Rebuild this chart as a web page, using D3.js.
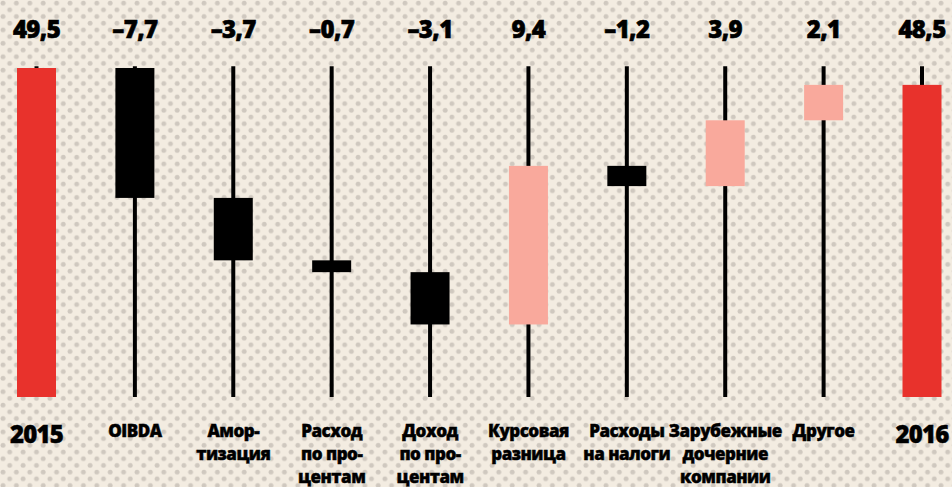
<!DOCTYPE html>
<html>
<head>
<meta charset="utf-8">
<script src="https://cdn.jsdelivr.net/npm/d3@7"></script>
<style>
  html, body { margin: 0; padding: 0; background: #f3ece1; }
  svg { display: block; }
</style>
</head>
<body>
<div id="chart"></div>
<script>
// ---- data ----
const categories = ["2015", "OIBDA", "Амортизация", "Расход по процентам", "Доход по процентам",
  "Курсовая разница", "Расходы на налоги", "Зарубежные дочерние компании", "Другое", "2016"];
const labelLines = [
  ["2015"], ["OIBDA"], ["Амор-", "тизация"], ["Расход", "по про-", "центам"], ["Доход", "по про-", "центам"],
  ["Курсовая", "разница"], ["Расходы", "на налоги"], ["Зарубежные", "дочерние", "компании"], ["Другое"], ["2016"]
];
const values = [49.5, -7.7, -3.7, -0.7, -3.1, 9.4, -1.2, 3.9, 2.1, 48.5];
const valueLabels = ["49,5", "–7,7", "–3,7", "–0,7", "–3,1", "9,4", "–1,2", "3,9", "2,1", "48,5"];
const isTotal = [true, false, false, false, false, false, false, false, false, true];

const width = 952, height = 487;
const baseValue = 30;   // axis is cut, bars start here

// ---- waterfall steps ----
let running = 0;
const steps = values.map((v, i) => {
  let y0, y1;
  if (isTotal[i]) { y0 = baseValue; y1 = v; running = v; }
  else { y0 = running; y1 = running + v; running = y1; }
  return { cat: categories[i], lines: labelLines[i], label: valueLabels[i], v, y0, y1, total: isTotal[i] };
});

const svg = d3.select("#chart").append("svg")
  .attr("width", width)
  .attr("height", height);

// dotted background
const defs = svg.append("defs");
const pat = defs.append("pattern")
  .attr("id", "dots")
  .attr("patternUnits", "userSpaceOnUse")
  .attr("width", 13.4)
  .attr("height", 13.4);
pat.append("rect").attr("width", 13.4).attr("height", 13.4).attr("fill", "#f3ece1");
pat.append("circle").attr("cx", 3).attr("cy", 3).attr("r", 2.4).attr("fill", "#cfc8bf");
pat.append("circle").attr("cx", 9.7).attr("cy", 9.7).attr("r", 2.4).attr("fill", "#cfc8bf");

svg.append("rect")
  .attr("width", width)
  .attr("height", height)
  .attr("fill", "url(#dots)");

// ---- scales ----
const x = d3.scalePoint()
  .domain(categories)
  .range([36.5, 922]);

const y = d3.scaleLinear()
  .domain([baseValue, 49.5])
  .range([397, 68]);

const barW = 39;

// wicks
svg.append("g")
  .selectAll("line")
  .data(steps)
  .join("line")
  .attr("x1", d => x(d.cat))
  .attr("x2", d => x(d.cat))
  .attr("y1", y(49.6))
  .attr("y2", y(baseValue))
  .attr("stroke", "#000")
  .attr("stroke-width", 4);

// bars
svg.append("g")
  .selectAll("rect")
  .data(steps)
  .join("rect")
  .attr("x", d => x(d.cat) - barW / 2)
  .attr("width", barW)
  .attr("y", d => y(Math.max(d.y0, d.y1)))
  .attr("height", d => Math.abs(y(d.y0) - y(d.y1)))
  .attr("fill", d => d.total ? "#e8322c" : (d.v < 0 ? "#000" : "#f9a99c"));

const font = "'Open Sans', 'DejaVu Sans', sans-serif";

// value labels
svg.append("g")
  .selectAll("text")
  .data(steps)
  .join("text")
  .attr("x", d => x(d.cat))
  .attr("y", 38)
  .attr("text-anchor", "middle")
  .style("font-family", font)
  .style("font-weight", 800)
  .style("font-size", "24px")
  .style("letter-spacing", "-0.6px")
  .attr("fill", "#000")
  .attr("stroke", "#000")
  .attr("stroke-width", 0.6)
  .text(d => d.label);

// category labels
const cat = svg.append("g")
  .selectAll("text")
  .data(steps)
  .join("text")
  .attr("text-anchor", "middle")
  .attr("x", d => x(d.cat))
  .attr("y", d => d.total ? 443 : 437)
  .style("font-family", font)
  .style("font-weight", 800)
  .style("font-size", d => d.total ? "24px" : "17px")
  .style("letter-spacing", d => d.total ? "-0.8px" : "-0.5px")
  .attr("fill", "#000")
  .attr("stroke", "#000")
  .attr("stroke-width", 0.45);

cat.selectAll("tspan")
  .data(d => d.lines.map(t => ({ t, cx: x(d.cat) })))
  .join("tspan")
  .attr("x", d => d.cx)
  .attr("dy", (d, i) => i === 0 ? 0 : 23)
  .text(d => d.t);
</script>
</body>
</html>
